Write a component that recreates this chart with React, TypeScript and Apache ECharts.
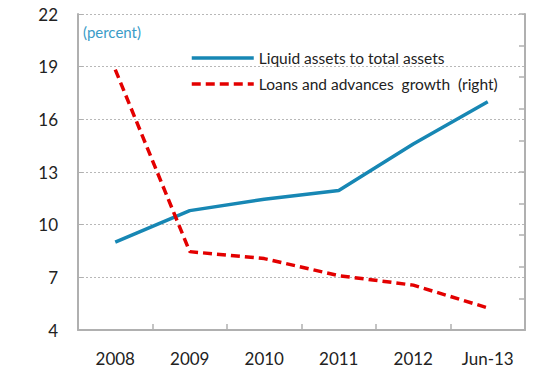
import React, { useEffect, useRef } from "react";
import * as echarts from "echarts";

const categories = ["2008", "2009", "2010", "2011", "2012", "Jun-13"];
const liquidAssets = [9.0, 10.8, 11.45, 11.95, 14.6, 17.0];
const loansGrowth = [41.2, 12.4, 11.3, 8.6, 7.1, 3.5];
const leftTicks = { min: 4, max: 22, interval: 3 };
const rightTicks = { min: 0, max: 50, interval: 5 };

const FONT = "Lato, 'Open Sans', sans-serif";

export default function App() {
  const ref = useRef<HTMLDivElement>(null);
  useEffect(() => {
    const chart = echarts.init(ref.current!, null, { renderer: "svg" });
    chart.setOption({
      animation: false,
      backgroundColor: "#ffffff",
      textStyle: { fontFamily: FONT },
      grid: { left: 78, right: 11, top: 14, bottom: 39, containLabel: false },
      graphic: [
        {
          type: "text",
          left: 83,
          top: 24,
          style: { text: "(percent)", fill: "#3a9cc8", font: `15px ${FONT}` },
        },
      ],
      legend: {
        orient: "vertical",
        left: 190,
        top: 50,
        padding: 0,
        itemWidth: 62,
        itemHeight: 14,
        itemGap: 10,
        itemStyle: { opacity: 0 },
        lineStyle: { width: 3.5 },
        textStyle: { fontSize: 15.5, color: "#222", fontFamily: FONT, lineHeight: 14 },
        data: ["Liquid assets to total assets", "Loans and advances  growth  (right)"],
      },
      xAxis: {
        type: "category",
        data: categories,
        boundaryGap: true,
        axisLine: { lineStyle: { color: "#b0b0b0", width: 2 } },
        axisTick: { show: true, inside: true, length: 6, lineStyle: { color: "#b0b0b0", width: 1.5 } },
        axisLabel: { color: "#222", fontSize: 17, margin: 20, fontFamily: FONT },
        splitLine: { show: false },
      },
      yAxis: [
        {
          type: "value",
          min: leftTicks.min,
          max: leftTicks.max,
          interval: leftTicks.interval,
          axisLine: { show: true, lineStyle: { color: "#b0b0b0", width: 2 } },
          axisTick: { show: true, inside: true, length: 5, lineStyle: { color: "#b0b0b0" } },
          axisLabel: { color: "#222", fontSize: 17, margin: 20, fontFamily: FONT },
          splitLine: { show: true, lineStyle: { color: "#b8b8b8", type: [2, 2], width: 1 } },
        },
        {
          type: "value",
          min: rightTicks.min,
          max: rightTicks.max,
          interval: rightTicks.interval,
          position: "right",
          axisLine: { show: true, lineStyle: { color: "#b0b0b0", width: 2 } },
          axisTick: { show: true, inside: true, length: 6, lineStyle: { color: "#b0b0b0", width: 1.5 } },
          axisLabel: { show: false },
          splitLine: { show: false },
        },
      ],
      series: [
        {
          name: "Liquid assets to total assets",
          type: "line",
          yAxisIndex: 0,
          data: liquidAssets,
          symbol: "none",
          color: "#1787b4",
          lineStyle: { color: "#1787b4", width: 3.5 },
        },
        {
          name: "Loans and advances  growth  (right)",
          type: "line",
          yAxisIndex: 1,
          data: loansGrowth,
          symbol: "none",
          color: "#e30000",
          lineStyle: { color: "#e30000", width: 3.5, type: [9, 5] },
        },
      ],
    });
    return () => chart.dispose();
  }, []);
  return (
    <div
      ref={ref}
      style={{ position: "fixed", left: 0, top: 0, width: 536, height: 369 }}
    />
  );
}
